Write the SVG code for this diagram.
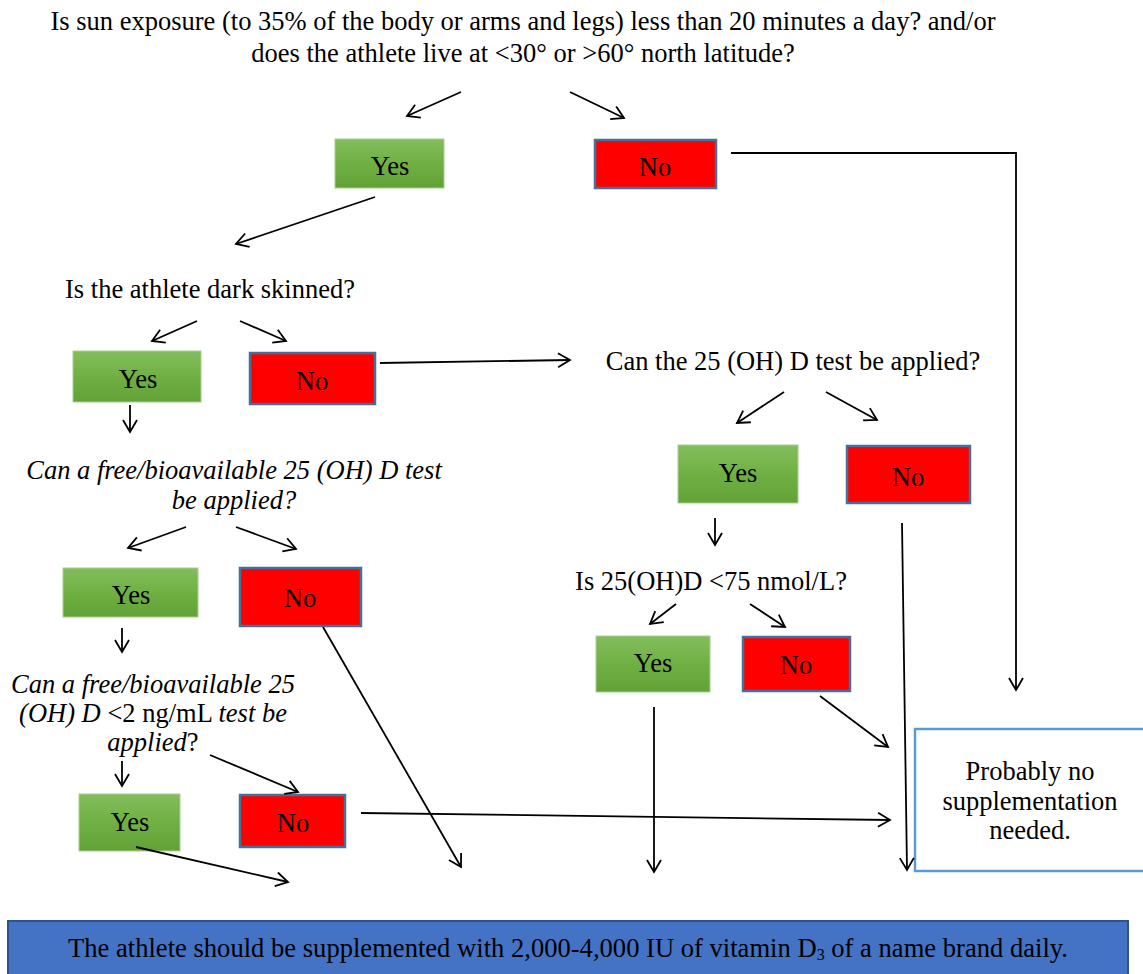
<svg xmlns="http://www.w3.org/2000/svg" width="1143" height="974" viewBox="0 0 1143 974">
<defs>
<linearGradient id="g" x1="0" y1="0" x2="0" y2="1">
<stop offset="0" stop-color="#83BD5E"/>
<stop offset="0.5" stop-color="#70B043"/>
<stop offset="1" stop-color="#62A136"/>
</linearGradient>
<marker id="a" viewBox="-14 -9 16 18" refX="0" refY="0" markerWidth="16" markerHeight="18" markerUnits="userSpaceOnUse" orient="auto">
<path d="M-12,-7 L0,0 L-12,7" fill="none" stroke="#000" stroke-width="1.8"/>
</marker>
</defs>
<style>
text{font-family:"Liberation Serif","Times New Roman",serif;font-size:26.5px;fill:#000}
.c{text-anchor:middle}
.i{font-style:italic}
.yes{fill:url(#g);stroke:#A8D08D;stroke-width:1}
.no{fill:#FF0000;stroke:#41719C;stroke-width:2.5}
.ln{fill:none;stroke:#000;stroke-width:1.8}
.ar{fill:none;stroke:#000;stroke-width:1.8;marker-end:url(#a)}
</style>
<rect width="1143" height="974" fill="#fff"/>

<g id="q1">
<text class="c" x="523" y="30">Is sun exposure (to 35% of the body or arms and legs) less than 20 minutes a day? and/or</text>
<text class="c" x="523" y="62">does the athlete live at &lt;30° or &gt;60° north latitude?</text>
</g>
<g id="yes1"><rect class="yes" x="335" y="139" width="109" height="49"/><text class="c" x="390" y="175">Yes</text></g>
<g id="no1"><rect class="no" x="595" y="140" width="121" height="48"/><text class="c" x="655" y="176">No</text></g>

<g id="q2"><text class="c" x="210" y="298">Is the athlete dark skinned?</text></g>
<g id="yes2"><rect class="yes" x="73" y="351" width="128" height="51"/><text class="c" x="138" y="388">Yes</text></g>
<g id="no2"><rect class="no" x="250" y="353" width="125" height="51"/><text class="c" x="312" y="390">No</text></g>

<g id="q3"><text class="c" x="793" y="370">Can the 25 (OH) D test be applied?</text></g>
<g id="yes5"><rect class="yes" x="678" y="445" width="120" height="58"/><text class="c" x="738" y="482">Yes</text></g>
<g id="no5"><rect class="no" x="847" y="446" width="123" height="57"/><text class="c" x="908" y="486">No</text></g>

<g id="q5"><text class="c" x="711" y="590">Is 25(OH)D &lt;75 nmol/L?</text></g>
<g id="yes6"><rect class="yes" x="596" y="636" width="114" height="56"/><text class="c" x="653" y="672">Yes</text></g>
<g id="no6"><rect class="no" x="743" y="637" width="107" height="54"/><text class="c" x="796" y="674">No</text></g>

<g id="q4">
<text class="c i" x="234" y="479">Can a free/bioavailable 25 (OH) D test</text>
<text class="c i" x="234" y="509">be applied?</text>
</g>
<g id="yes3"><rect class="yes" x="63" y="568" width="135" height="49"/><text class="c" x="131" y="604">Yes</text></g>
<g id="no3"><rect class="no" x="240" y="568" width="121" height="58"/><text class="c" x="300" y="607">No</text></g>

<g id="q6" font-size="26">
<text class="c i" x="153" y="693" font-size="26">Can a free/bioavailable 25</text>
<text class="c" x="153" y="722" font-size="26"><tspan class="i">(OH) D </tspan>&lt;2 ng/mL <tspan class="i">test be</tspan></text>
<text class="c" x="153" y="751" font-size="26"><tspan class="i">applied</tspan>?</text>
</g>
<g id="yes4"><rect class="yes" x="79" y="794" width="101" height="57"/><text class="c" x="130" y="831">Yes</text></g>
<g id="no4"><rect class="no" x="240" y="795" width="105" height="52"/><text class="c" x="293" y="832">No</text></g>

<g id="none">
<rect x="915" y="729" width="240" height="142" fill="#fff" stroke="#5B9BD5" stroke-width="2.5"/>
<text class="c" x="1030" y="780">Probably no</text>
<text class="c" x="1030" y="810">supplementation</text>
<text class="c" x="1030" y="839">needed.</text>
</g>

<g id="supp">
<rect x="8" y="921" width="1120" height="60" fill="#4472C4" stroke="#2F528F" stroke-width="2"/>
<text x="68" y="957" font-size="26" textLength="1000" lengthAdjust="spacingAndGlyphs">The athlete should be supplemented with 2,000-4,000 IU of vitamin D<tspan font-size="16" dy="3">3</tspan><tspan dy="-3"> of a name brand daily.</tspan></text>
</g>

<g id="connectors">
<line class="ar" x1="461" y1="92" x2="407" y2="116"/>
<line class="ar" x1="570" y1="92" x2="624" y2="118"/>
<polyline class="ar" points="731,153 1016,153 1016,690"/>
<line class="ar" x1="375" y1="197" x2="236" y2="244"/>
<line class="ar" x1="197" y1="321" x2="152" y2="341"/>
<line class="ar" x1="240" y1="321" x2="286" y2="341"/>
<line class="ar" x1="380" y1="363" x2="570" y2="360"/>
<line class="ar" x1="130" y1="405" x2="130" y2="432"/>
<line class="ar" x1="186" y1="527" x2="128" y2="548"/>
<line class="ar" x1="236" y1="527" x2="296" y2="549"/>
<line class="ar" x1="122" y1="628" x2="122" y2="652"/>
<line class="ar" x1="122" y1="761" x2="122" y2="786"/>
<line class="ar" x1="210" y1="755" x2="298" y2="792"/>
<line class="ar" x1="136" y1="847" x2="288" y2="882"/>
<line class="ar" x1="361" y1="813" x2="890" y2="820"/>
<line class="ar" x1="323" y1="627" x2="461" y2="867"/>
<line class="ar" x1="784" y1="392" x2="737" y2="423"/>
<line class="ar" x1="826" y1="392" x2="877" y2="420"/>
<line class="ar" x1="715" y1="518" x2="715" y2="545"/>
<line class="ar" x1="676" y1="604" x2="650" y2="624"/>
<line class="ar" x1="750" y1="604" x2="785" y2="627"/>
<line class="ar" x1="654" y1="707" x2="654" y2="872"/>
<line class="ar" x1="820" y1="696" x2="888" y2="747"/>
<line class="ar" x1="902" y1="523" x2="907" y2="870"/>
</g>
</svg>
